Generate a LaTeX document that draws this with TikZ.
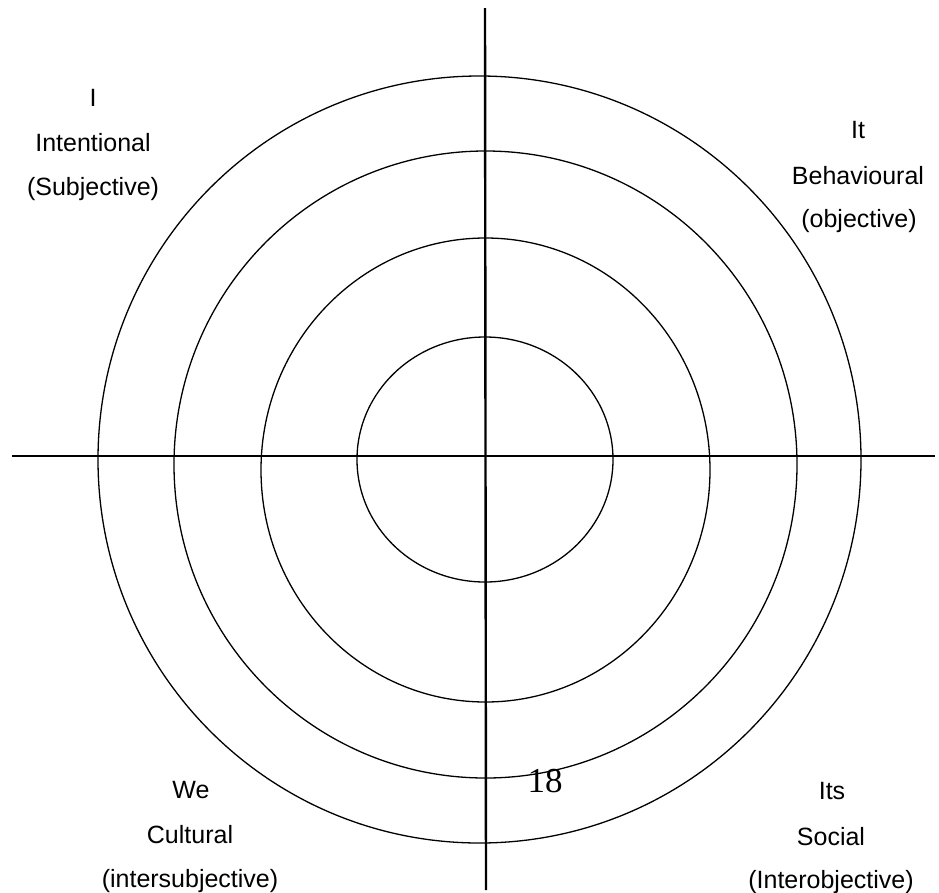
\documentclass[tikz,border=0pt]{standalone}
\usepackage{fontspec}
\setmainfont{Liberation Sans}
\newfontfamily\numfont{Liberation Serif}
\begin{document}
\begin{tikzpicture}[x=1pt,y=-1pt,
  ring/.style={line width=1.3pt},
  axis/.style={line width=2.4pt},
  lbl/.style={font=\fontsize{25}{29}\selectfont, anchor=base, inner sep=0pt},
  pagenum/.style={font=\numfont\fontsize{35}{40}\selectfont, anchor=base, inner sep=0pt}]
\clip (0,0) rectangle (939,892);
% rings
\draw[ring] (485,459.5) ellipse [x radius=128, y radius=122.5];
\draw[ring] (485.5,470) ellipse [x radius=224.5, y radius=232];
\draw[ring] (485.5,464.5) ellipse [x radius=311.5, y radius=313.5];
\draw[ring] (479.5,459.5) ellipse [x radius=381.5, y radius=383.5];
% axes
\coordinate (vtop) at (485,8);
\coordinate (vbot) at (486,890);
\coordinate (hleft) at (12,456);
\coordinate (hright) at (935,456);
\draw[axis] (vtop) -- (vbot);
\draw[axis] (hleft) -- (hright);
% top-left
\node[lbl] (i1) at (93,106) {I};
\node[lbl] (i2) at (93,151) {Intentional};
\node[lbl] (i3) at (93,195) {(Subjective)};
% top-right
\node[lbl] (it1) at (858,138) {It};
\node[lbl] (it2) at (858,184) {Behavioural};
\node[lbl] (it3) at (859,227) {(objective)};
% bottom-left
\node[lbl] (we1) at (191,798) {We};
\node[lbl] (we2) at (190,843) {Cultural};
\node[lbl] (we3) at (190,887) {(intersubjective)};
% bottom-right
\node[lbl] (its1) at (832,799) {Its};
\node[lbl] (its2) at (831,845) {Social};
\node[lbl] (its3) at (831,888) {(Interobjective)};
% page number
\node[pagenum] (pg) at (545,792) {18};
\end{tikzpicture}
\end{document}
